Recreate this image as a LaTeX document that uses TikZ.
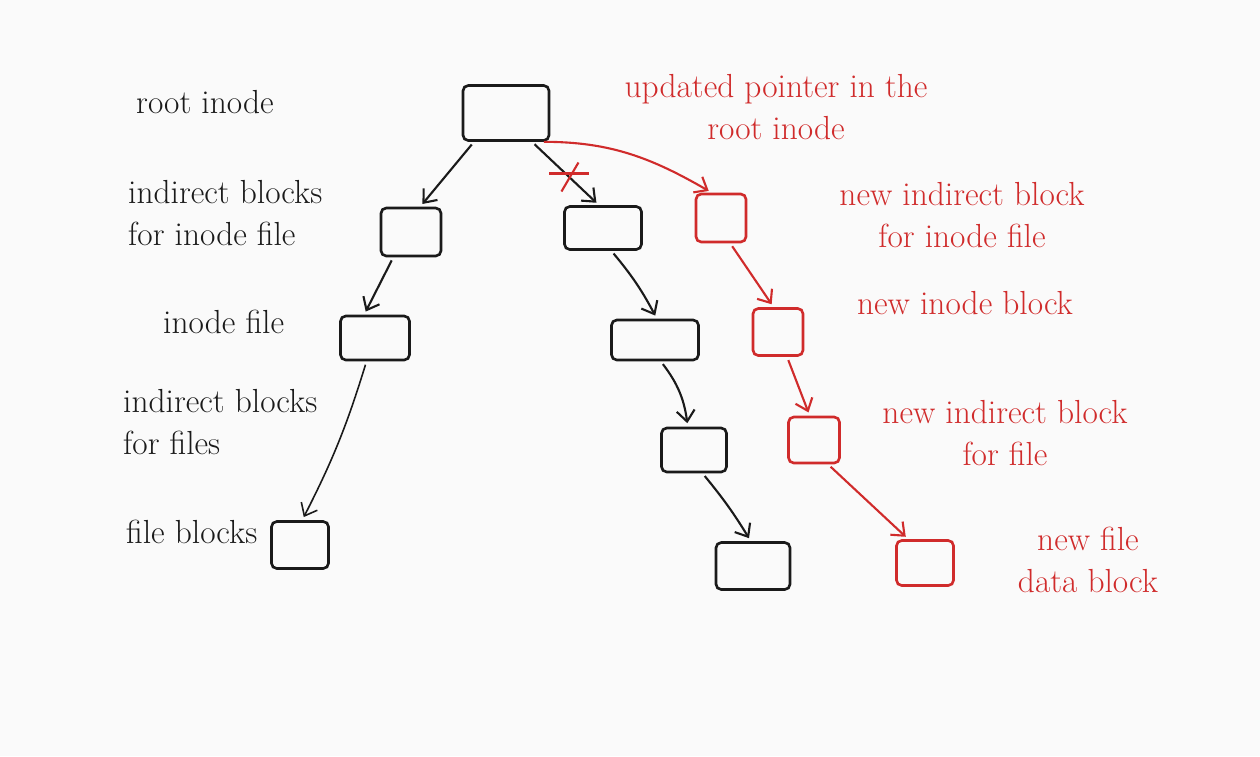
\documentclass[tikz,border=0pt]{standalone}
\usepackage{tikz}
\usetikzlibrary{arrows.meta,positioning}
\definecolor{pen}{HTML}{1A1A1A}
\definecolor{redpen}{HTML}{D02B2B}
\definecolor{paper}{HTML}{FAFAFA}

\begin{document}
\begin{tikzpicture}[
    blk/.style={draw=pen, line width=1.5pt, rounded corners=3pt, inner sep=0pt},
    newblk/.style={blk, draw=redpen},
    ptr/.style={-{Straight Barb[length=2.2mm,width=3.6mm]}, line width=1.2pt, color=pen, shorten >=2pt, shorten <=2pt},
    newptr/.style={ptr, color=redpen},
    lbl/.style={font=\fontsize{19}{24}\selectfont, align=left, anchor=west, text=pen},
    newlbl/.style={lbl, text=redpen, align=center, anchor=center}
]

    \fill[paper] (0, 0) rectangle (25.2, -15.12);
    \useasboundingbox (0, 0) rectangle (25.2, -15.12);

    % old tree
    \node[blk, minimum width=1.72cm, minimum height=1.1cm] (root) at (10.12, -2.26) {};
    \node[blk, minimum width=1.2cm, minimum height=0.96cm] (ib1) at (8.22, -4.64) {};
    \node[blk, minimum width=1.54cm, minimum height=0.86cm] (ib2) at (12.06, -4.56) {};
    \node[blk, minimum width=1.38cm, minimum height=0.88cm] (if1) at (7.5, -6.76) {};
    \node[blk, minimum width=1.74cm, minimum height=0.8cm] (if2) at (13.1, -6.8) {};
    \node[blk, minimum width=1.3cm, minimum height=0.88cm] (fib2) at (13.88, -9.0) {};
    \node[blk, minimum width=1.14cm, minimum height=0.94cm] (fb1) at (6.0, -10.9) {};
    \node[blk, minimum width=1.48cm, minimum height=0.94cm] (fb2) at (15.06, -11.32) {};

    % new copies
    \node[newblk, minimum width=1.0cm, minimum height=0.96cm] (nib) at (14.42, -4.36) {};
    \node[newblk, minimum width=1.0cm, minimum height=0.94cm] (nif) at (15.56, -6.64) {};
    \node[newblk, minimum width=1.02cm, minimum height=0.92cm] (nfib) at (16.28, -8.8) {};
    \node[newblk, minimum width=1.14cm, minimum height=0.9cm] (nfb) at (18.5, -11.26) {};

    \path[ptr]
        (root.222) edge (ib1.70)
        (root.-48) edge coordinate[pos=0.5] (cut) (ib2.100)
        (ib1.235) edge (if1.115)
        (if1.250) edge[bend left=5, line width=0.9pt] (fb1.85)
        (ib2.-70) edge[bend left=6] (if2.85)
        (if2.-75) edge[bend left=15] (fib2.105)
        (fib2.-70) edge[bend left=4] (fb2.95);

    \path[newptr]
        (root.-40) edge[out=0, in=150] (nib.110)
        (nib.-70) edge (nif.100)
        (nif.-70) edge (nfib.100)
        (nfib.-60) edge (nfb.125);

    % crossed out old pointer
    \draw[redpen, line width=1.2pt] ([xshift=-0.32cm]cut) -- ([xshift=0.48cm]cut);
    \draw[redpen, line width=1.2pt] ([shift={(-0.08cm,-0.36cm)}]cut) -- ([shift={(0.26cm,0.22cm)}]cut);

    % labels
    \node[lbl] (lroot) at (2.6, -2.04) {root inode};
    \node[lbl] (lib) at (2.44, -4.26) {indirect blocks\\for inode file};
    \node[lbl] (lif) at (3.14, -6.44) {inode file};
    \node[lbl] (lfib) at (2.34, -8.44) {indirect blocks\\for files};
    \node[lbl] (lfb) at (2.4, -10.64) {file blocks};

    \node[newlbl] (lroot2) at (15.52, -2.14) {updated pointer in the\\root inode};
    \node[newlbl] (lnib) at (19.24, -4.3) {new indirect block\\for inode file};
    \node[newlbl] (lnif) at (19.3, -6.06) {new inode block};
    \node[newlbl] (lnfib) at (20.1, -8.66) {new indirect block\\for file};
    \node[newlbl] (lnfb) at (21.76, -11.2) {new file\\data block};
\end{tikzpicture}
\end{document}
